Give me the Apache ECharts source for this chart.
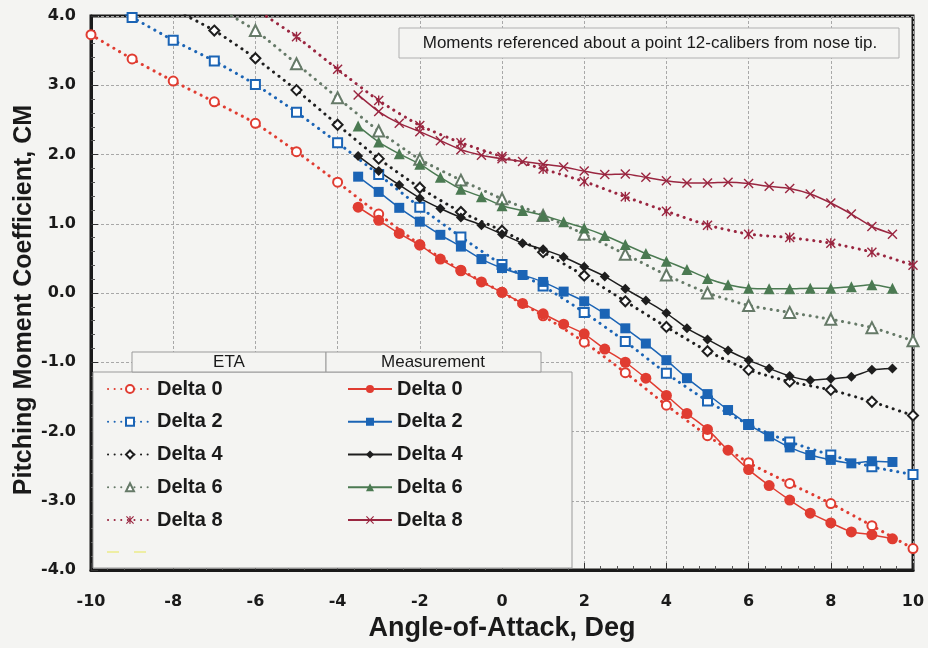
<!DOCTYPE html>
<html>
<head>
<meta charset="utf-8">
<script src="https://cdn.jsdelivr.net/npm/echarts@6/dist/echarts.min.js"></script>
<style>
  html, body { margin: 0; padding: 0; background: #f4f4f2; }
  #chart { width: 928px; height: 648px; }
</style>
</head>
<body>
<div id="chart"></div>
<script>
  // angle of attack for both data sets
  const etaX = [-10, -9, -8, -7, -6, -5, -4, -3, -2, -1, 0, 1, 2, 3, 4, 5, 6, 7, 8, 9, 10]
  const measX = [-3.5, -3, -2.5, -2, -1.5, -1, -0.5, 0, 0.5, 1, 1.5, 2, 2.5, 3, 3.5, 4, 4.5, 5, 5.5, 6, 6.5, 7, 7.5, 8, 8.5, 9, 9.5]

  // ETA prediction (null = off the top of the chart)
  const eta0 = [3.73, 3.38, 3.06, 2.76, 2.45, 2.04, 1.60, 1.14, 0.70, 0.33, 0.01, -0.33, -0.71, -1.15, -1.62, -2.06, -2.45, -2.75, -3.04, -3.36, -3.69]
  const eta2 = [4.30, 3.98, 3.65, 3.35, 3.01, 2.61, 2.17, 1.71, 1.24, 0.81, 0.41, 0.10, -0.28, -0.70, -1.16, -1.56, -1.90, -2.15, -2.34, -2.51, -2.62]
  const eta4 = [null, null, 4.10, 3.79, 3.39, 2.93, 2.43, 1.94, 1.52, 1.17, 0.90, 0.59, 0.25, -0.12, -0.49, -0.84, -1.11, -1.28, -1.40, -1.57, -1.77]
  const eta6 = [null, null, null, 4.15, 3.79, 3.31, 2.82, 2.34, 1.93, 1.63, 1.36, 1.12, 0.85, 0.56, 0.26, 0.00, -0.18, -0.28, -0.38, -0.50, -0.69]
  const eta8 = [null, null, null, null, 4.10, 3.70, 3.23, 2.78, 2.42, 2.17, 1.97, 1.79, 1.61, 1.39, 1.18, 0.98, 0.85, 0.80, 0.72, 0.59, 0.40]

  // measurement
  const meas0 = [1.24, 1.05, 0.86, 0.69, 0.49, 0.32, 0.16, 0.01, -0.15, -0.30, -0.45, -0.59, -0.81, -1.00, -1.23, -1.48, -1.74, -1.97, -2.27, -2.55, -2.78, -2.99, -3.18, -3.32, -3.45, -3.49, -3.55]
  const meas2 = [1.68, 1.46, 1.23, 1.03, 0.84, 0.67, 0.49, 0.36, 0.26, 0.16, 0.02, -0.12, -0.30, -0.51, -0.73, -0.97, -1.23, -1.46, -1.69, -1.90, -2.07, -2.23, -2.34, -2.41, -2.46, -2.43, -2.44]
  const meas4 = [1.98, 1.76, 1.56, 1.37, 1.22, 1.09, 0.98, 0.85, 0.72, 0.63, 0.52, 0.38, 0.24, 0.06, -0.11, -0.29, -0.51, -0.67, -0.83, -0.97, -1.09, -1.20, -1.26, -1.24, -1.21, -1.11, -1.09]
  const meas6 = [2.41, 2.18, 2.01, 1.86, 1.67, 1.50, 1.39, 1.26, 1.19, 1.12, 1.03, 0.94, 0.83, 0.70, 0.57, 0.46, 0.34, 0.21, 0.12, 0.07, 0.06, 0.06, 0.07, 0.07, 0.09, 0.12, 0.07]
  const meas8 = [2.86, 2.62, 2.45, 2.33, 2.20, 2.07, 1.99, 1.94, 1.90, 1.86, 1.82, 1.76, 1.71, 1.72, 1.67, 1.62, 1.59, 1.59, 1.60, 1.58, 1.54, 1.51, 1.43, 1.30, 1.14, 0.96, 0.85]

  const deltas = ['Delta 0', 'Delta 2', 'Delta 4', 'Delta 6', 'Delta 8']

  const BG = '#f4f4f2'
  const FONT = '"Liberation Sans", Arial, sans-serif'
  const X_MARK = 'path://M1,0L5,4L9,0L10,1L6,5L10,9L9,10L5,6L1,10L0,9L4,5L0,1Z'
  const STAR_MARK = 'path://M1,0L5,4L9,0L10,1L6,5L10,9L9,10L5,6L1,10L0,9L4,5L0,1Z M4.3,0L5.7,0L5.7,10L4.3,10Z'

  const etaStyle = [
    { color: '#e03c31', symbol: 'emptyCircle', size: 9 },
    { color: '#1b64b5', symbol: 'emptyRect', size: 9 },
    { color: '#1e1e1e', symbol: 'emptyDiamond', size: 10 },
    { color: '#667a68', symbol: 'emptyTriangle', size: 11 },
    { color: '#9a2640', symbol: STAR_MARK, size: 10 }
  ]
  const measStyle = [
    { color: '#e03c31', symbol: 'circle', size: 11 },
    { color: '#1b64b5', symbol: 'rect', size: 10 },
    { color: '#1e1e1e', symbol: 'diamond', size: 10 },
    { color: '#4b7a52', symbol: 'triangle', size: 11 },
    { color: '#9a2640', symbol: X_MARK, size: 10 }
  ]

  function pairs(xs, ys) {
    return xs.map((x, i) => [x, ys[i]]).filter(p => p[1] !== null)
  }

  const etaSeries = [eta0, eta2, eta4, eta6, eta8].map((ys, i) => ({
    name: 'ETA ' + deltas[i],
    type: 'line',
    data: pairs(etaX, ys),
    smooth: 0.2,
    clip: true,
    symbol: etaStyle[i].symbol,
    symbolSize: etaStyle[i].size,
    lineStyle: { color: etaStyle[i].color, width: 3, type: [0.1, 6.5], cap: 'round' },
    itemStyle: { color: etaStyle[i].color, borderWidth: 1.5 }
  }))

  const measSeries = [meas0, meas2, meas4, meas6, meas8].map((ys, i) => ({
    name: 'Meas ' + deltas[i],
    type: 'line',
    data: pairs(measX, ys),
    smooth: 0.2,
    clip: true,
    symbol: measStyle[i].symbol,
    symbolSize: measStyle[i].size,
    lineStyle: { color: measStyle[i].color, width: 1.5 },
    itemStyle: { color: measStyle[i].color }
  }))

  const legendText = { fontFamily: FONT, fontSize: 20, fontWeight: 'bold', color: '#1a1a1a' }
  const stripPrefix = name => name.replace(/^(ETA|Meas) /, '')

  const myChart = echarts.init(document.getElementById('chart'))
  myChart.setOption({
    backgroundColor: BG,
    animation: false,
    grid: {
      left: 91, right: 15, top: 16, bottom: 78, outerBoundsMode: 'none',
      show: true, borderColor: '#1a1a1a', borderWidth: 3, backgroundColor: 'transparent'
    },
    xAxis: {
      type: 'value', min: -10, max: 10, interval: 2,
      name: 'Angle-of-Attack, Deg', nameLocation: 'middle', nameGap: 44,
      nameTextStyle: { fontFamily: FONT, fontSize: 27, fontWeight: 'bold', color: '#1a1a1a' },
      axisLine: { show: true, onZero: false, lineStyle: { color: '#1a1a1a', width: 3 } },
      axisTick: { show: true, inside: true, length: 7, lineStyle: { color: '#333', width: 1 } },
      minorTick: { show: true, splitNumber: 5, length: 4, lineStyle: { color: '#555' } },
      axisLabel: { margin: 24, fontFamily: '"DejaVu Sans", sans-serif', fontSize: 16, fontWeight: 'bold', color: '#1a1a1a' },
      splitLine: { show: true, lineStyle: { color: '#a8a8a8', width: 1, type: [3, 2] } }
    },
    yAxis: {
      type: 'value', min: -4, max: 4, interval: 1,
      name: 'Pitching Moment Coefficient, CM', nameLocation: 'middle', nameGap: 54, nameMoveOverlap: false,
      nameTextStyle: { fontFamily: FONT, fontSize: 25, fontWeight: 'bold', color: '#1a1a1a', padding: [0, 14, 0, 0] },
      axisLine: { show: true, onZero: false, lineStyle: { color: '#1a1a1a', width: 3 } },
      axisTick: { show: true, inside: true, length: 7, lineStyle: { color: '#333', width: 1 } },
      minorTick: { show: true, splitNumber: 5, length: 4, lineStyle: { color: '#555' } },
      axisLabel: {
        margin: 15, fontFamily: '"DejaVu Sans", sans-serif', fontSize: 16, fontWeight: 'bold', color: '#1a1a1a',
        formatter: v => v.toFixed(1)
      },
      splitLine: { show: true, lineStyle: { color: '#a8a8a8', width: 1, type: [3, 2] } }
    },
    legend: [
      {
        data: etaSeries.map(s => s.name),
        orient: 'vertical', left: 107, top: 379, padding: 0,
        itemWidth: 44, itemHeight: 10, itemGap: 12.75,
        formatter: stripPrefix, textStyle: legendText, selectedMode: false
      },
      {
        data: measSeries.map(s => s.name),
        orient: 'vertical', left: 347, top: 379, padding: 0,
        itemWidth: 44, itemHeight: 10, itemGap: 12.75,
        formatter: stripPrefix, textStyle: legendText, selectedMode: false
      }
    ],
    // legend table and the note box
    graphic: [
      {
        type: 'rect', z: 1, silent: true,
        shape: { x: 93, y: 372, width: 479, height: 196 },
        style: { fill: BG, stroke: '#9a9a9a', lineWidth: 1 }
      },
      {
        type: 'rect', z: 1, silent: true,
        shape: { x: 132, y: 352, width: 194, height: 20 },
        style: { fill: BG, stroke: '#9a9a9a', lineWidth: 1 }
      },
      {
        type: 'rect', z: 1, silent: true,
        shape: { x: 326, y: 352, width: 215, height: 20 },
        style: { fill: BG, stroke: '#9a9a9a', lineWidth: 1 }
      },
      {
        type: 'text', z: 1, silent: true, x: 229, y: 362,
        style: { text: 'ETA', fill: '#1a1a1a', font: '17px ' + FONT, textAlign: 'center', textVerticalAlign: 'middle' }
      },
      {
        type: 'text', z: 1, silent: true, x: 433, y: 362,
        style: { text: 'Measurement', fill: '#1a1a1a', font: '17px ' + FONT, textAlign: 'center', textVerticalAlign: 'middle' }
      },
      {
        // faint leftover legend entry at the bottom of the table
        type: 'line', z: 2, silent: true,
        shape: { x1: 107, y1: 552, x2: 151, y2: 552 },
        style: { stroke: '#ecec8a', lineWidth: 1.5, lineDash: [12, 15] }
      },
      {
        type: 'rect', z: 1, silent: true,
        shape: { x: 399, y: 28, width: 500, height: 30 },
        style: { fill: BG, stroke: '#b0b0b0', lineWidth: 1 }
      },
      {
        type: 'text', z: 1, silent: true, x: 650, y: 43,
        style: {
          text: 'Moments referenced about a point 12-calibers from nose tip.',
          fill: '#1a1a1a', font: '17px ' + FONT, textAlign: 'center', textVerticalAlign: 'middle'
        }
      }
    ],
    series: etaSeries.concat(measSeries)
  })
</script>
</body>
</html>
